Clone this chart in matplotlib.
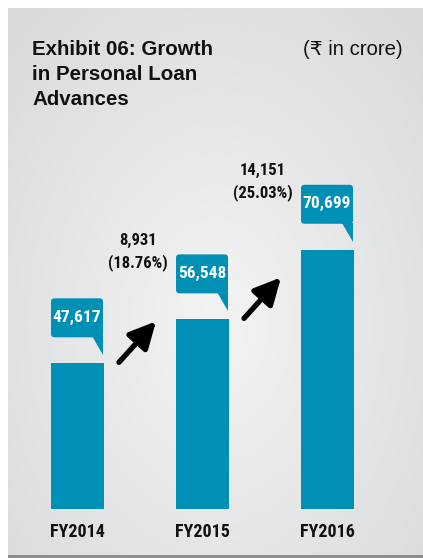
import numpy as np
import matplotlib
matplotlib.use("Agg")
import matplotlib.pyplot as plt
from matplotlib.patches import FancyBboxPatch, Polygon, Rectangle

# ---- data ----
years = ["FY2014", "FY2015", "FY2016"]
advances = [47617, 56548, 70699]
growth_abs = ["8,931", "14,151"]
growth_pct = ["18.76%", "25.03%"]
title_lines = ["Exhibit 06: Growth", "in Personal Loan", "Advances"]
unit_note = "(\u20b9 in crore)"

BAR = "#0090b6"
W, H = 423, 558
DPI = 100
fig = plt.figure(figsize=(W / DPI, H / DPI), dpi=DPI)
fig.patch.set_facecolor("white")

# ---- background panel with soft gradient ----
px0, py0, px1, py1 = 8, 8, 423, 555  # image px (y down)
bg = fig.add_axes([px0 / W, 1 - py1 / H, (px1 - px0) / W, (py1 - py0) / H])
yy, xx = np.mgrid[0:200, 0:200]
cx, cy = 100, 115
r = np.sqrt(((xx - cx) / 140.0) ** 2 + ((yy - cy) / 150.0) ** 2)
r = np.clip(r, 0, 1)
light = np.array([0.955, 0.955, 0.958])
dark = np.array([0.85, 0.855, 0.862])
img = light[None, None, :] * (1 - r[..., None]) + dark[None, None, :] * r[..., None]
bg.imshow(img, aspect="auto", extent=[0, 1, 0, 1], origin="upper")
bg.set_xlim(0, 1); bg.set_ylim(0, 1)
bg.axis("off")
fig.patches.append(Rectangle((px0 / W, 0), (px1 - px0) / W, (H - py1) / H,
                             transform=fig.transFigure, facecolor="#8e8e8e",
                             edgecolor="none", zorder=5))

# ---- chart axes ----
ax_bottom_px = 509
ax_top_px = 8
ax = fig.add_axes([0, 1 - ax_bottom_px / H, 1, (ax_bottom_px - ax_top_px) / H])
ax.patch.set_alpha(0)
units_per_px = 203.3
ymin = 18000
ax.set_ylim(ymin, ymin + (ax_bottom_px - ax_top_px) * units_per_px)
spacing_px = 125.0
first_center_px = 77.5
ax.set_xlim(-first_center_px / spacing_px, (W - first_center_px) / spacing_px)
ax.axis("off")

x = np.arange(len(years))
bw = 53 / spacing_px
ax.bar(x, advances, width=bw, color=BAR, zorder=3)

fig.canvas.draw()
narrow = ["Roboto Condensed", "DejaVu Sans"]
regular = ["Liberation Sans", "DejaVu Sans"]


def disp(xd, yd):
    return ax.transData.transform((xd, yd))


for i, v in enumerate(advances):
    ax_x, ax_y = disp(x[i] + bw / 2, v)  # top-right of bar (display px, y up)
    box = FancyBboxPatch((ax_x - 53, ax_y + 26), 52, 39,
                         boxstyle="round,pad=0,rounding_size=3.5",
                         transform=None, facecolor=BAR, edgecolor="none", zorder=4)
    fig.patches.append(box)
    tail = Polygon([(ax_x - 12, ax_y + 27), (ax_x - 1, ax_y + 27), (ax_x - 1, ax_y + 8)],
                   closed=True, transform=None, facecolor=BAR, edgecolor="none", zorder=4)
    fig.patches.append(tail)
    fig.text(ax_x - 27, ax_y + 46, f"{v:,}", transform=None, ha="center", va="center",
             color="white", fontsize=12.5, fontweight="bold", family=narrow, zorder=6)
    bx, _ = disp(x[i], v)
    fig.text(bx, H - 532, years[i], transform=None, ha="center", va="center",
             color="#111111", fontsize=13, fontweight="bold", family=narrow)

for i in range(len(advances) - 1):
    tx, ty = disp(x[i] + bw / 2, advances[i])
    ax.annotate("", xy=(tx + 52, ty + 42), xytext=(tx + 15, ty + 1),
                xycoords="figure pixels", textcoords="figure pixels",
                arrowprops=dict(arrowstyle="-|>,head_length=1.0,head_width=0.5",
                                lw=3.8, color="black", shrinkA=0, shrinkB=0,
                                mutation_scale=16),
                zorder=5)
    nx, ny = disp(x[i + 1] - bw / 2, advances[i + 1])
    fig.text(nx - 38, ny + 79, growth_abs[i], transform=None, ha="center", va="center",
             color="#111111", fontsize=12, fontweight="bold", family=narrow)
    fig.text(nx - 38, ny + 57, f"({growth_pct[i]})", transform=None, ha="center",
             va="center", color="#111111", fontsize=12, fontweight="bold", family=narrow)

# ---- titles ----
for k, line in enumerate(title_lines):
    fig.text(32 / W, 1 - (55 + 24.8 * k) / H, line, ha="left", va="baseline",
             fontsize=14.8, fontweight="bold", color="#111111", family=regular)
fig.text(403 / W, 1 - 55 / H, unit_note, ha="right", va="baseline", fontsize=14.6,
         color="#111111", family=regular)

fig.savefig("out.png", dpi=DPI, facecolor="white")
